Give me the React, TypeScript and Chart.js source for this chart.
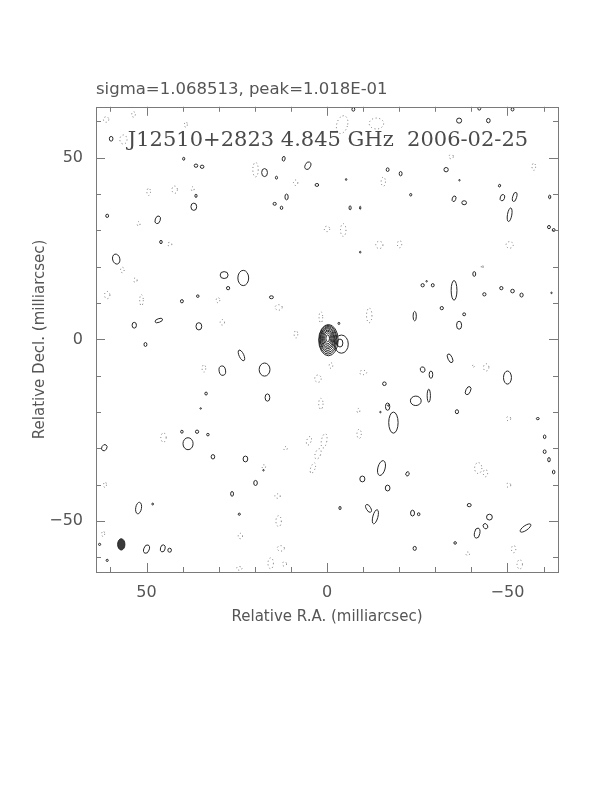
import { useEffect, useRef } from "react";
import { Chart, registerables } from "chart.js";

Chart.register(...registerables);

// ---- text ----
const titleText = "sigma=1.068513, peak=1.018E-01";
const mapLabel = "J12510+2823 4.845 GHz  2006-02-25";
const xAxisTitle = "Relative R.A. (milliarcsec)";
const yAxisTitle = "Relative Decl. (milliarcsec)";

// ---- axes (milliarcsec) ----
const axisMin = -64;
const axisMax = 64;
const minorStep = 10;
const majorStep = 50;
const tickLabels: Record<string, string> = { "50": "50", "0": "0", "-50": "\u221250" };

// ---- contour islands: [RA offset, Dec offset, width, height, tilt deg] (mas) ----
const coreContours: number[][] = [
  [-0.4, -0.2, 5.4, 8.6, 0],
  [-0.3, -0.1, 4.9, 7.9, 0],
  [-0.3, 0.0, 4.4, 7.1, 0],
  [-0.2, 0.1, 3.9, 6.3, 0],
  [-0.2, 0.2, 3.4, 5.5, 0],
  [-0.2, 0.2, 2.9, 4.7, 0],
  [-0.2, 0.3, 2.3, 3.9, 0],
  [-0.2, 0.3, 1.7, 3.0, 0],
  [-0.2, 0.3, 1.0, 1.9, 0],
];

const companionContours: number[][] = [
  [-4.0, -1.3, 3.8, 5.0, 0],
  [-3.6, -1.0, 1.6, 2.2, 0],
];

const positiveIslands: number[][] = [
  [59.8, 55.2, 1.0, 1.3, 0], [39.7, 49.7, 0.6, 0.8, 0], [36.3, 47.8, 1.0, 0.9, 0],
  [34.6, 47.5, 1.0, 0.9, 0], [36.3, 39.5, 0.6, 0.9, 0], [36.9, 36.5, 1.6, 2.0, 0],
  [60.9, 34.0, 0.8, 0.9, 0], [46.9, 32.9, 1.4, 2.2, 20], [46.0, 26.8, 0.7, 0.9, 0],
  [58.4, 22.1, 2.0, 2.8, -15], [28.5, 17.7, 2.2, 1.9, 0], [23.2, 16.9, 3.0, 4.2, 0],
  [27.4, 14.1, 0.9, 0.9, 0], [40.2, 10.5, 0.8, 0.9, 0], [35.8, 11.9, 0.7, 0.7, 0],
  [53.4, 3.9, 1.2, 1.6, 0], [46.6, 5.2, 2.2, 1.0, -20], [35.5, 3.6, 1.6, 2.0, 0],
  [-7.3, 63.3, 0.8, 1.0, 0], [12.0, 49.7, 0.8, 1.3, 10], [17.3, 45.9, 1.6, 2.2, 0],
  [14.0, 44.5, 0.6, 0.8, 0], [5.3, 47.8, 1.5, 2.2, 25], [2.8, 42.5, 1.0, 0.8, 0],
  [-16.8, 46.7, 0.8, 1.0, 0], [-20.4, 45.6, 0.8, 1.2, 0], [11.2, 39.2, 0.9, 1.6, 0],
  [14.5, 37.3, 0.9, 0.8, 0], [12.6, 36.2, 0.7, 0.9, 0], [-6.4, 36.2, 0.6, 1.1, 0],
  [-9.2, 36.2, 0.3, 0.9, 0], [15.4, 11.6, 1.1, 0.8, 0],
  [-42.2, 63.5, 0.8, 0.8, 0], [-51.4, 63.3, 0.8, 0.9, 0], [-36.6, 60.2, 1.4, 1.4, 0],
  [-44.7, 60.2, 1.0, 1.2, 0], [-33.0, 46.7, 1.2, 1.2, 0], [-23.2, 39.8, 0.6, 0.7, 0],
  [-35.2, 38.7, 1.0, 1.6, 20], [-38.0, 37.6, 1.3, 1.1, 0], [-47.8, 42.3, 0.6, 0.8, 20],
  [-48.6, 39.0, 1.2, 1.8, 20], [-52.0, 39.2, 1.1, 2.6, 15], [-50.6, 34.3, 1.2, 3.8, 10],
  [-61.7, 39.2, 0.6, 1.0, 0], [-61.5, 30.9, 0.8, 0.9, 0], [-62.8, 30.1, 0.8, 0.8, 0],
  [-40.8, 18.0, 0.8, 1.3, 0], [-26.5, 14.9, 0.9, 0.9, 0], [-29.3, 14.9, 0.8, 0.9, 0],
  [-35.2, 13.5, 1.6, 5.4, 0], [-43.6, 12.4, 0.9, 0.9, 0], [-48.3, 14.1, 0.9, 0.9, 0],
  [-51.4, 13.3, 1.0, 1.0, 0], [-53.9, 12.2, 0.9, 1.1, 0], [-31.8, 8.6, 0.9, 0.9, 0],
  [-24.3, 6.4, 0.9, 2.6, 0], [-38.0, 6.9, 0.8, 0.8, 0], [-36.6, 3.9, 1.4, 2.2, 0],
  [50.3, -1.4, 0.8, 1.1, 0], [23.7, -4.4, 1.3, 3.2, -25], [29.0, -8.6, 1.8, 2.6, -10],
  [33.5, -14.9, 0.7, 0.8, 0], [40.2, -25.4, 0.7, 0.8, 0], [36.0, -25.4, 0.9, 0.9, 0],
  [33.0, -26.2, 0.7, 0.7, 0], [38.5, -28.7, 2.8, 3.3, 0], [61.7, -29.8, 1.4, 1.8, 30],
  [31.6, -32.3, 1.0, 1.2, 0], [22.6, -32.9, 1.3, 1.6, 0], [26.3, -42.5, 0.8, 1.3, 0],
  [52.2, -46.4, 1.6, 3.2, 10], [48.3, -45.3, 0.5, 0.5, 0], [24.3, -48.1, 0.6, 0.6, 0],
  [50.0, -57.7, 1.5, 2.4, 20], [45.5, -57.5, 1.3, 2.0, 15], [43.6, -58.0, 1.0, 1.1, 0],
  [63.0, -56.4, 0.6, 0.6, 0], [60.9, -60.8, 0.6, 0.6, 0],
  [17.3, -8.3, 3.0, 3.6, 0], [16.5, -16.0, 1.3, 2.0, 0], [-15.9, -12.2, 1.0, 1.0, 0],
  [-16.8, -18.5, 1.2, 2.0, 0], [-18.4, -22.9, 2.6, 5.8, 0], [-15.1, -35.4, 2.0, 4.2, 15],
  [-9.8, -38.4, 1.4, 1.6, 0], [-16.8, -40.9, 1.3, 1.6, 0], [19.8, -39.5, 1.0, 1.4, 0],
  [-3.6, -46.4, 0.6, 0.9, 0], [-11.5, -46.5, 1.2, 2.4, -30], [-13.4, -48.8, 1.4, 4.0, 15],
  [-34.1, -5.2, 1.2, 2.6, -25], [-26.5, -8.3, 1.3, 1.5, -20], [-28.8, -9.7, 1.0, 2.0, 0],
  [-50.0, -10.5, 2.2, 3.6, 0], [-39.1, -14.1, 1.3, 2.4, 25], [-24.6, -16.9, 3.0, 2.6, 0],
  [-28.2, -15.5, 0.9, 3.6, 0], [-36.0, -19.9, 0.9, 1.1, 0], [-58.4, -21.8, 0.8, 0.6, 0],
  [-60.3, -26.8, 0.7, 1.0, 0], [-60.3, -30.9, 0.8, 1.0, 0], [-61.5, -33.1, 0.7, 1.2, 0],
  [-62.8, -36.5, 0.7, 1.0, 0], [-22.3, -37.0, 0.9, 1.2, 20], [-39.4, -45.6, 1.1, 0.9, 0],
  [-23.7, -47.8, 1.1, 1.6, 0], [-25.4, -48.1, 0.7, 0.8, 0], [-45.0, -48.9, 1.6, 1.6, 0],
  [-43.9, -51.4, 1.2, 1.5, -30], [-41.6, -53.3, 1.5, 2.8, 10], [-55.0, -51.9, 1.3, 3.5, 55],
  [-35.5, -56.0, 0.7, 0.7, 0], [-24.3, -57.5, 0.9, 1.1, 0],
  [-5.3, 44.0, 0.4, 0.5, 0], [-9.2, 24.0, 0.4, 0.5, 0], [-36.7, 43.8, 0.4, 0.4, 0],
  [-62.2, 12.8, 0.4, 0.4, 0], [-27.6, 16.0, 0.4, 0.4, 0], [-3.3, 4.4, 0.5, 0.6, 0],
  [35.0, -19.0, 0.4, 0.4, 0], [17.6, -36.0, 0.4, 0.4, 0], [-17.0, -18.2, 0.4, 0.4, 0],
  [-14.8, -20.0, 0.4, 0.4, 0],
];

const negativeIslands: number[][] = [
  [61.2, 60.5, 1.5, 1.5, 0], [53.6, 61.9, 1.0, 1.5, 0], [39.1, 59.1, 0.8, 1.5, 0],
  [56.4, 55.0, 2.0, 2.5, 0], [49.4, 40.6, 1.0, 2.0, 0], [42.2, 41.2, 1.5, 2.0, 0],
  [37.2, 41.4, 0.8, 1.2, 0], [52.2, 31.8, 0.8, 1.2, 0], [43.6, 26.2, 1.2, 1.0, 0],
  [56.7, 19.1, 1.0, 1.5, 0], [53.1, 16.3, 1.0, 1.2, 0], [60.9, 12.2, 1.5, 2.0, 0],
  [51.4, 10.8, 1.0, 3.0, 0], [30.2, 10.8, 1.0, 1.4, 0], [29.0, 4.7, 1.2, 1.5, 0],
  [19.8, 46.7, 1.5, 4.0, 0], [8.7, 43.1, 1.2, 1.5, 0], [-4.2, 59.1, 3.0, 5.0, 15],
  [-13.7, 59.4, 4.0, 3.0, 0], [-15.6, 43.4, 1.2, 2.5, 0], [0.0, 30.4, 1.5, 1.5, 0],
  [-4.5, 30.1, 1.5, 3.5, 0], [-14.5, 26.0, 2.0, 2.0, 0], [-20.1, 26.2, 1.2, 2.0, 0],
  [13.4, 8.8, 2.0, 1.5, 0], [1.7, 6.1, 1.0, 3.0, 0], [-11.7, 6.6, 1.5, 4.0, 0],
  [8.6, 1.4, 1.0, 2.0, 0], [-34.4, 50.3, 1.2, 1.2, 0], [-57.3, 47.5, 1.0, 2.0, 0],
  [-50.6, 26.0, 2.0, 1.8, 0], [-43.0, 20.0, 0.5, 1.0, 0], [34.1, -8.0, 1.0, 2.0, 0],
  [45.3, -27.0, 1.5, 2.5, 0], [24.0, -54.1, 1.2, 1.5, 0], [24.3, -63.0, 1.5, 1.0, 0],
  [-1.1, -7.2, 1.0, 1.5, 0], [-10.0, -9.1, 2.0, 1.2, 0], [2.5, -10.8, 1.8, 2.0, 0],
  [1.7, -17.7, 1.2, 3.0, 0], [-8.7, -19.6, 0.8, 1.2, 0], [-8.9, -26.0, 1.2, 2.5, 0],
  [5.0, -27.9, 1.2, 2.5, 20], [0.8, -27.9, 1.5, 4.0, 10], [2.5, -31.5, 1.5, 3.0, 20],
  [3.9, -35.4, 1.2, 3.0, 20], [11.5, -30.0, 1.0, 1.0, 0], [17.5, -35.0, 1.0, 1.0, 0],
  [13.7, -43.1, 1.5, 1.2, 0], [13.4, -50.0, 1.5, 3.0, 0], [12.8, -57.5, 2.0, 1.5, 0],
  [15.6, -61.6, 1.5, 3.0, 0], [11.8, -61.8, 1.2, 1.2, 0], [-44.1, -7.7, 1.5, 2.0, 0],
  [-40.5, -7.4, 0.6, 0.6, 0], [-50.3, -21.8, 1.2, 1.2, 0], [-41.9, -35.4, 2.0, 3.0, 0],
  [-43.9, -36.8, 1.2, 2.0, 0], [-50.3, -40.1, 1.2, 1.2, 0], [-51.7, -57.7, 1.2, 2.0, 0],
  [-53.4, -61.9, 1.5, 2.5, 0], [-39.0, -59.0, 1.0, 1.0, 0], [62.0, -53.5, 0.8, 1.5, 0],
  [61.5, -40.0, 0.8, 1.5, 0],
];

const beamShape: number[][] = [[57.0, -56.4, 2.0, 3.1, 0]];

const toPoints = (rows: number[][]) =>
  rows.map(([x, y, w, h, a]) => ({ x, y, w, h, a }));

const FONT = "'DejaVu Sans', sans-serif";
const TEXT_COLOR = "#555555";

const contourPlugin = {
  id: "contourIslands",
  afterDatasetsDraw(chart: any) {
    const { ctx, chartArea, scales } = chart;
    const xs = scales.x;
    const ys = scales.y;
    const pxX = Math.abs(xs.getPixelForValue(1) - xs.getPixelForValue(0));
    const pxY = Math.abs(ys.getPixelForValue(1) - ys.getPixelForValue(0));
    ctx.save();
    ctx.beginPath();
    ctx.rect(chartArea.left, chartArea.top, chartArea.right - chartArea.left, chartArea.bottom - chartArea.top);
    ctx.clip();
    chart.data.datasets.forEach((ds: any, i: number) => {
      const meta = chart.getDatasetMeta(i);
      meta.data.forEach((el: any, j: number) => {
        const raw = ds.data[j];
        ctx.beginPath();
        ctx.ellipse(el.x, el.y, Math.max(0.6, (raw.w / 2) * pxX), Math.max(0.6, (raw.h / 2) * pxY),
          (raw.a * Math.PI) / 180, 0, Math.PI * 2);
        if (ds.kind === "neg") {
          ctx.setLineDash([1, 2.6]);
          ctx.strokeStyle = "#707070";
          ctx.lineWidth = 1;
          ctx.stroke();
        } else if (ds.kind === "beam") {
          ctx.setLineDash([]);
          ctx.fillStyle = "#3a3a3a";
          ctx.fill();
          ctx.strokeStyle = "#222";
          ctx.lineWidth = 1;
          ctx.stroke();
        } else {
          ctx.setLineDash([]);
          ctx.strokeStyle = "#262626";
          ctx.lineWidth = 1;
          ctx.stroke();
        }
      });
    });
    ctx.restore();
  },
  afterDraw(chart: any) {
    const { ctx, chartArea, scales } = chart;
    const { left, right, top, bottom } = chartArea;
    ctx.save();
    ctx.strokeStyle = "#7a7a7a";
    ctx.lineWidth = 1;
    ctx.setLineDash([]);
    ctx.strokeRect(Math.round(left) + 0.5, Math.round(top) + 0.5, Math.round(right - left), Math.round(bottom - top));
    // inward ticks on all four sides
    ctx.beginPath();
    for (let v = -60; v <= 60; v += minorStep) {
      const len = v % majorStep === 0 ? 9 : 5;
      const px = Math.round(scales.x.getPixelForValue(v)) + 0.5;
      ctx.moveTo(px, bottom); ctx.lineTo(px, bottom - len);
      ctx.moveTo(px, top); ctx.lineTo(px, top + len);
      const py = Math.round(scales.y.getPixelForValue(v)) + 0.5;
      ctx.moveTo(left, py); ctx.lineTo(left + len, py);
      ctx.moveTo(right, py); ctx.lineTo(right - len, py);
    }
    ctx.stroke();
    // map label
    ctx.fillStyle = "#4a4a4a";
    ctx.font = "21px 'DejaVu Serif', serif";
    ctx.textAlign = "center";
    ctx.textBaseline = "middle";
    ctx.fillText(mapLabel, (left + right) / 2 + 1, top + 34);
    ctx.restore();
  },
};

export default function App() {
  const canvasRef = useRef<HTMLCanvasElement | null>(null);

  useEffect(() => {
    const canvas = canvasRef.current;
    if (!canvas) return;
    const base = { pointRadius: 0, pointHoverRadius: 0, showLine: false };
    const chart = new Chart(canvas, {
      type: "scatter",
      data: {
        datasets: [
          { ...base, label: "negative", kind: "neg", data: toPoints(negativeIslands) } as any,
          { ...base, label: "positive", kind: "pos", data: toPoints(positiveIslands) } as any,
          { ...base, label: "core", kind: "core", data: toPoints(coreContours) } as any,
          { ...base, label: "companion", kind: "pos", data: toPoints(companionContours) } as any,
          { ...base, label: "beam", kind: "beam", data: toPoints(beamShape) } as any,
        ],
      },
      options: {
        responsive: false,
        animation: false,
        devicePixelRatio: 1,
        events: [],
        layout: { padding: { top: 80, right: 54, bottom: 0, left: 0 } },
        plugins: {
          legend: { display: false },
          tooltip: { enabled: false },
          title: {
            display: true,
            text: titleText,
            align: "start",
            fullSize: false,
            color: TEXT_COLOR,
            font: { family: FONT, size: 16.5, weight: "normal" as any },
            padding: { top: 0, bottom: 7 },
          },
        },
        scales: {
          x: {
            type: "linear",
            min: axisMin,
            max: axisMax,
            reverse: true,
            grid: { display: false, drawTicks: false },
            border: { display: false },
            ticks: {
              stepSize: minorStep,
              autoSkip: false,
              maxRotation: 0,
              padding: 11,
              color: TEXT_COLOR,
              font: { family: FONT, size: 16 },
              callback: (v: any) => tickLabels[String(v)] ?? "",
            },
            title: {
              display: true,
              text: xAxisTitle,
              color: TEXT_COLOR,
              font: { family: FONT, size: 15 },
              padding: { top: 0, bottom: 166 },
            },
            afterFit: (s: any) => { s.height = 220; },
          },
          y: {
            type: "linear",
            min: axisMin,
            max: axisMax,
            grid: { display: false, drawTicks: false },
            border: { display: false },
            ticks: {
              stepSize: minorStep,
              autoSkip: false,
              padding: 13,
              color: TEXT_COLOR,
              font: { family: FONT, size: 16 },
              callback: (v: any) => tickLabels[String(v)] ?? "",
            },
            title: {
              display: true,
              text: yAxisTitle,
              color: TEXT_COLOR,
              font: { family: FONT, size: 15 },
              padding: { top: 31, bottom: 0 },
            },
            afterFit: (s: any) => { s.width = 96; },
          },
        },
      },
      plugins: [contourPlugin],
    });
    return () => chart.destroy();
  }, []);

  return (
    <canvas
      ref={canvasRef}
      width={612}
      height={792}
      style={{ position: "absolute", left: 0, top: 0, width: 612, height: 792 }}
    />
  );
}
